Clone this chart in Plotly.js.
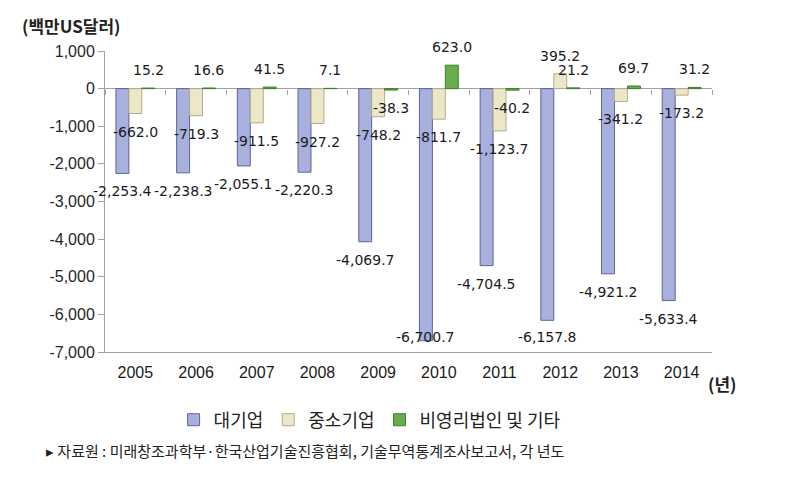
<!DOCTYPE html>
<html>
<head>
<meta charset="utf-8">
<script src="https://cdn.plot.ly/plotly-3.0.1.min.js"></script>
<style>
  html, body { margin: 0; padding: 0; background: #ffffff; }
  #chart { width: 787px; height: 477px; }
</style>
</head>
<body>
<div id="chart"></div>
<script>
// ---- data ----
const years = ['2005', '2006', '2007', '2008', '2009', '2010', '2011', '2012', '2013', '2014'];
const largeCo = [-2253.4, -2238.3, -2055.1, -2220.3, -4069.7, -6700.7, -4704.5, -6157.8, -4921.2, -5633.4];
const smeCo = [-662.0, -719.3, -911.5, -927.2, -748.2, -811.7, -1123.7, 395.2, -341.2, -173.2];
const nonprofit = [15.2, 16.6, 41.5, 7.1, -38.3, 623.0, -40.2, 21.2, 69.7, 31.2];
const seriesNames = ['대기업', '중소기업', '비영리법인 및 기타'];
const yTickVals = [1000, 0, -1000, -2000, -3000, -4000, -5000, -6000, -7000];
const yTickText = ['1,000', '0', '-1,000', '-2,000', '-3,000', '-4,000', '-5,000', '-6,000', '-7,000'];
const yUnit = '(백만US달러)';
const xUnit = '(년)';
const sourceNote = '▸ 자료원 : 미래창조과학부·한국산업기술진흥협회, 기술무역통계조사보고서, 각 년도';

// ---- rendering ----
const W = 787, H = 477;
const M = {l: 105, r: 75, t: 51, b: 125};
const yMin = -7000, yMax = 1000;
const bargap = 0.36;
const plotW = W - M.l - M.r, plotH = H - M.t - M.b;
const pxPerUnit = plotH / (yMax - yMin);
const barW = (plotW / years.length) * (1 - bargap) / 3;

const fmt = v => v.toLocaleString('en-US', {minimumFractionDigits: 1, maximumFractionDigits: 1});
const labelFont = {family: 'DejaVu Sans, sans-serif', size: 14, color: '#1a1a1a'};
const cjk = 'Noto Sans CJK KR, sans-serif';

function barTrace(name, vals, fill, edge) {
  return {
    type: 'bar', name: name, x: years, y: vals,
    marker: {color: fill, line: {color: edge, width: 1}},
    hoverinfo: 'x+y'
  };
}

const seriesVals = [largeCo, smeCo, nonprofit];
const traces = [
  barTrace(seriesNames[0], largeCo, '#a8b0dd', '#5b6499'),
  barTrace(seriesNames[1], smeCo, '#ece7c8', '#b3ab85'),
  barTrace(seriesNames[2], nonprofit, '#6aad4c', '#3f7d2c'),
  {type: 'scatter', mode: 'markers', x: years, y: nonprofit, xaxis: 'x2', yaxis: 'y',
   marker: {opacity: 0}, showlegend: false, hoverinfo: 'skip'}
];

// value labels, placed Excel-style outside bar ends (x = category index)
const labelAnns = [];
seriesVals.forEach((vals, si) => {
  vals.forEach((v, i) => {
    let shift;
    if (v >= 0) {
      shift = 18;
    } else {
      const distToBottom = (v - yMin) * pxPerUnit;
      shift = -Math.min(18, distToBottom - 15);
    }
    labelAnns.push({
      x: i, y: v, xref: 'x', yref: 'y', text: fmt(v), showarrow: false,
      xshift: (si - 1) * barW, yshift: shift, xanchor: 'center', yanchor: 'middle',
      font: labelFont
    });
  });
});

const layout = {
  width: W, height: H,
  paper_bgcolor: '#ffffff', plot_bgcolor: '#ffffff',
  margin: M,
  barmode: 'group', bargap: bargap, bargroupgap: 0,
  showlegend: true,
  legend: {orientation: 'h', x: 0.113, xanchor: 'left', y: -0.226, yanchor: 'middle',
           font: {family: cjk, size: 18, color: '#222'}, itemwidth: 30, tracegroupgap: 0,
           traceorder: 'normal'},
  xaxis: {type: 'category', categoryorder: 'array', categoryarray: years,
          range: [-0.5, years.length - 0.5], autorange: false,
          showgrid: false, zeroline: false,
          showline: true, linecolor: '#a0a0a0', linewidth: 1, ticks: '',
          tickfont: {family: 'Liberation Sans, Arial, sans-serif', size: 16, color: '#1a1a1a'},
          ticklabelstandoff: 6},
  xaxis2: {type: 'category', overlaying: 'x', matches: 'x', anchor: 'free', position: -yMin / (yMax - yMin),
           categoryorder: 'array', categoryarray: years,
           showgrid: false, zeroline: false, showline: false, showticklabels: false,
           ticks: 'outside', tickson: 'boundaries', ticklen: 5, tickcolor: '#a0a0a0', tickwidth: 1},
  yaxis: {range: [yMin, yMax], autorange: false, tickvals: yTickVals, ticktext: yTickText,
          showgrid: false, zeroline: true, zerolinecolor: '#a0a0a0', zerolinewidth: 1,
          showline: true, linecolor: '#a0a0a0', linewidth: 1,
          ticks: 'outside', ticklen: 6, tickcolor: '#a0a0a0',
          tickfont: {family: 'Liberation Sans, Arial, sans-serif', size: 16, color: '#262626'}},
  annotations: labelAnns.concat([
    {text: '<b>' + yUnit + '</b>', xref: 'paper', yref: 'paper', x: -0.14, y: 1.086,
     xanchor: 'left', yanchor: 'middle', showarrow: false,
     font: {family: cjk, size: 17, color: '#222'}},
    {text: '<b>' + xUnit + '</b>', xref: 'paper', yref: 'paper', x: 0.99, y: -0.106,
     xanchor: 'left', yanchor: 'middle', showarrow: false,
     font: {family: cjk, size: 17, color: '#222'}},
    {text: sourceNote, xref: 'paper', yref: 'paper', x: -0.1, y: -0.326,
     xanchor: 'left', yanchor: 'middle', showarrow: false,
     font: {family: cjk, size: 15, color: '#222'}}
  ])
};

Plotly.newPlot('chart', traces, layout, {displayModeBar: false, responsive: false});
</script>
</body>
</html>
